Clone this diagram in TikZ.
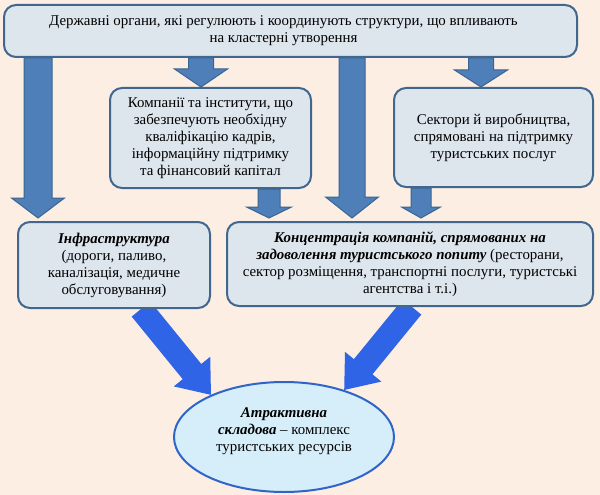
\documentclass[tikz,border=0pt]{standalone}
\usepackage{fontspec}
\setmainfont{Liberation Serif}
\newfontfamily\bodyfont[Ligatures=TeX]{Liberation Serif}
\usetikzlibrary{calc,shapes.geometric}

\definecolor{paper}{HTML}{FCEEE2}
\definecolor{boxfill}{HTML}{DDE5ED}
\definecolor{boxline}{HTML}{41678F}
\definecolor{arrowfill}{HTML}{4F7FB8}
\definecolor{arrowline}{HTML}{3A6590}
\definecolor{brightblue}{HTML}{3064E6}
\definecolor{ringfill}{HTML}{D5EEF9}
\definecolor{ringline}{HTML}{2F64C8}

\pgfdeclarelayer{paper}
\pgfdeclarelayer{under}
\pgfsetlayers{paper,under,main}

% block arrow: style, from, to, shaft half width, head half width, head length, base name
\newcommand{\fatarrow}[7]{%
  \coordinate (#7) at ($(#3)!#6!(#2)$);
  \draw[#1] ($(#2)!#4!90:(#3)$) -- ($(#7)!#4!-90:(#2)$) -- ($(#7)!#5!-90:(#2)$)
    -- (#3) -- ($(#7)!#5!90:(#2)$) -- ($(#7)!#4!90:(#2)$) -- ($(#2)!#4!-90:(#3)$) -- cycle;
}

\newcommand{\bi}[1]{\textbf{\textit{#1}}}

\tikzset{
  box/.style={draw=boxline, line width=2pt, fill=boxfill, rounded corners=12pt,
    align=center, inner sep=2pt, font=\bodyfont\fontsize{14.9}{17}\selectfont},
  darrow/.style={fill=arrowfill, draw=arrowline, line width=1pt, line join=miter},
  barrow/.style={fill=brightblue, draw=none},
}

\begin{document}
\begin{tikzpicture}[x=1pt,y=-1pt]

	% Paper
	\begin{pgfonlayer}{paper}
		\fill[paper] (0,0) rectangle (600,495);
	\end{pgfonlayer}
	\useasboundingbox (0,0) rectangle (600,495);

	% Top box
	\node[box, minimum width=573pt, minimum height=52pt] (gov) at (290.5,31)
		{\hspace*{-14pt}\begin{tabular}{@{}c@{}}Державні органи, які регулюють і координують структури, що впливають\\ на кластерні утворення\end{tabular}};

	% Middle boxes
	\node[box, minimum width=201pt, minimum height=100pt] (firms) at (210.5,138)
		{Компанії та інститути, що\\ забезпечують необхідну\\ кваліфікацію кадрів,\\ інформаційну підтримку\\ та фінансовий капітал};
	\node[box, minimum width=199pt, minimum height=99pt] (sectors) at (493.5,137.5)
		{Сектори й виробництва,\\ спрямовані на підтримку\\ туристських послуг};

	% Lower boxes
	\node[box, minimum width=192pt, minimum height=86pt] (infra) at (114,265)
		{\bi{Інфраструктура}\\ (дороги, паливо,\\ каналізація, медичне\\ обслуговування)};
	\node[box, minimum width=366pt, minimum height=84pt] (conc) at (410,264)
		{\bi{Концентрація компаній, спрямованих на}\\ \bi{задоволення туристського попиту} (ресторани,\\ сектор розміщення, транспортні послуги, туристські\\ агентства і т.і.)};

	% Ellipse
	\node[ellipse, draw=ringline, line width=2pt, fill=ringfill, minimum width=220pt,
		minimum height=110pt, inner sep=0pt, font=\bodyfont\fontsize{14.9}{17}\selectfont] (attr) at (284,437)
		{\begin{tabular}{@{}c@{}}\bi{Атрактивна}\\ \bi{складова} – комплекс\\ туристських ресурсів\\[-5pt] \mbox{}\end{tabular}};

	% Arrow ends
	\coordinate (gA) at (38,0 |- gov.south);
	\coordinate (tA) at ($(38,0 |- infra.north)+(0,-3)$);
	\coordinate (gB) at (201,0 |- gov.south);
	\coordinate (tB) at (201,0 |- firms.north);
	\coordinate (gC) at (352,0 |- gov.south);
	\coordinate (tC) at ($(352,0 |- conc.north)+(0,-3)$);
	\coordinate (gD) at (481,0 |- gov.south);
	\coordinate (tD) at (481,0 |- sectors.north);
	\coordinate (fE) at (269,0 |- firms.south);
	\coordinate (tE) at ($(269,0 |- conc.north)+(0,-3)$);
	\coordinate (sF) at (421,0 |- sectors.south);
	\coordinate (tF) at ($(421,0 |- conc.north)+(0,-3)$);
	\coordinate (iG) at (141,0 |- infra.south);
	\coordinate (cH) at (412,0 |- conc.south);

	% Arrows
	\begin{pgfonlayer}{under}
		\fatarrow{darrow}{gA}{tA}{14pt}{26.5pt}{20pt}{headA}
		\fatarrow{darrow}{gB}{tB}{12.5pt}{26.5pt}{18pt}{headB}
		\fatarrow{darrow}{gC}{tC}{13pt}{26.5pt}{21pt}{headC}
		\fatarrow{darrow}{gD}{tD}{12.5pt}{26.5pt}{17pt}{headD}
		\fatarrow{darrow}{fE}{tE}{11pt}{22.5pt}{11pt}{headE}
		\fatarrow{darrow}{sF}{tF}{10pt}{19.5pt}{11pt}{headF}
		\fatarrow{barrow}{iG}{attr.150}{12pt}{23.5pt}{30pt}{headG}
		\fatarrow{barrow}{cH}{attr.38}{12pt}{23.5pt}{30pt}{headH}
	\end{pgfonlayer}

\end{tikzpicture}
\end{document}
